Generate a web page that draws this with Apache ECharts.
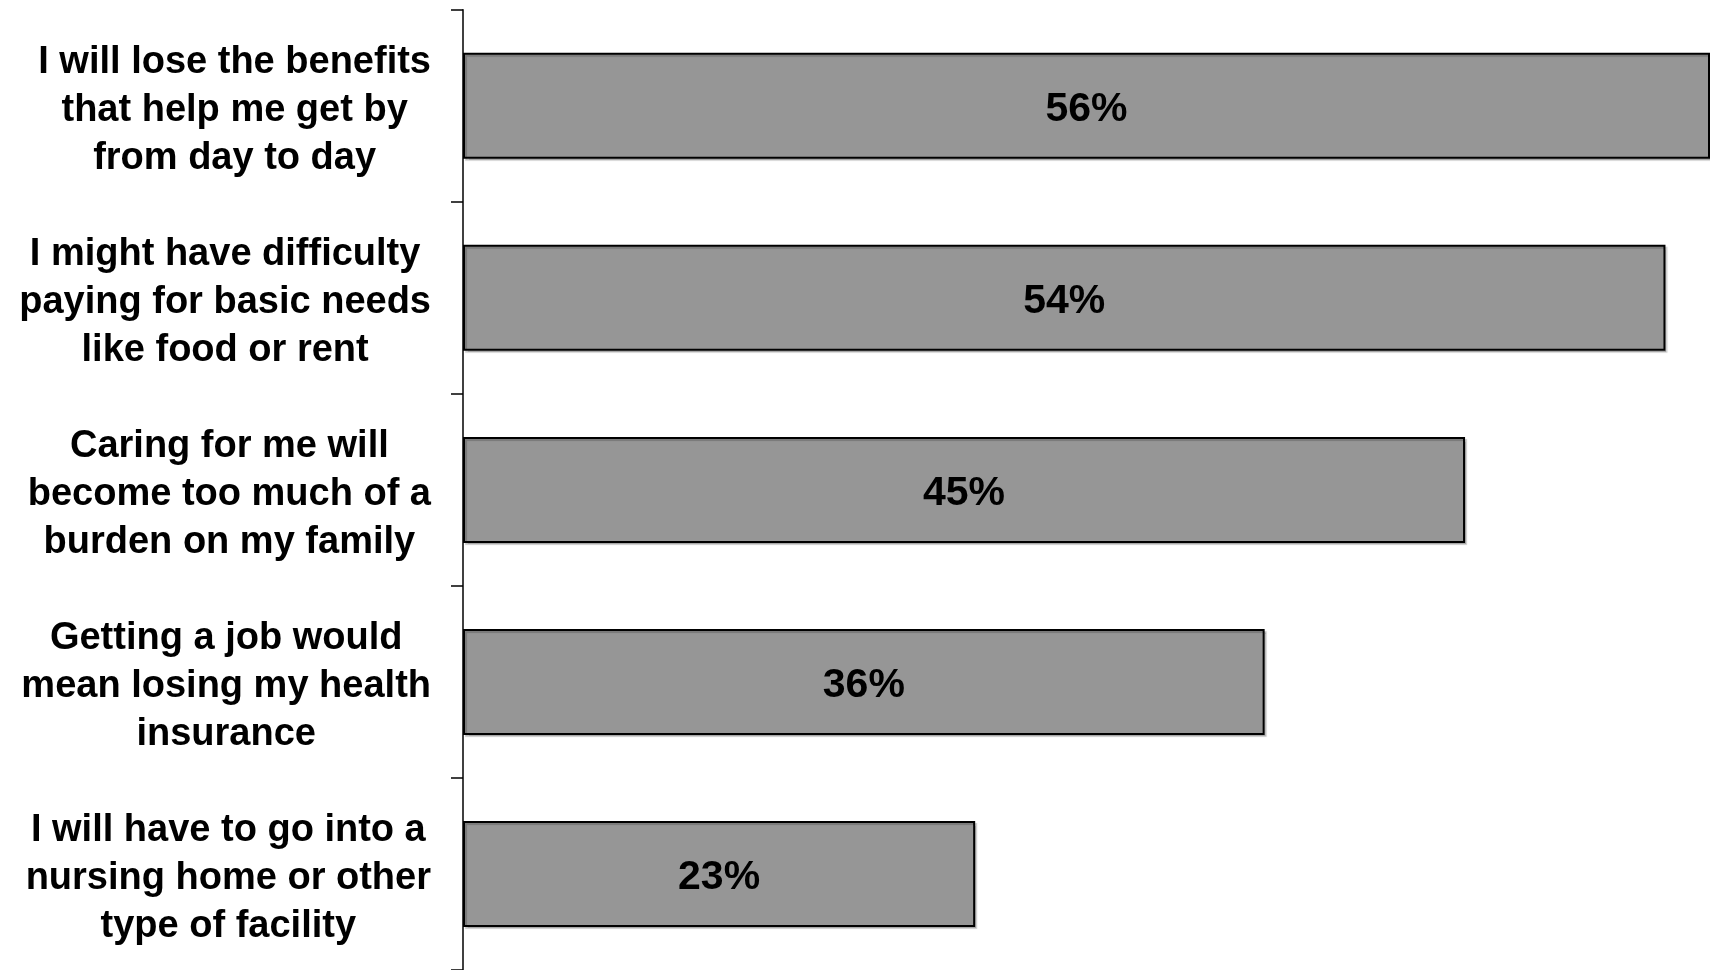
<!DOCTYPE html>
<html>
<head>
<meta charset="utf-8">
<script src="https://cdn.jsdelivr.net/npm/echarts@6/dist/echarts.min.js"></script>
<style>
html,body{margin:0;padding:0;background:#fff;}
#chart{width:1710px;height:970px;}
</style>
</head>
<body>
<div id="chart"></div>
<script>
var categories = [
  "I will lose the benefits\nthat help me get by\nfrom day to day",
  "I might have difficulty\npaying for basic needs\nlike food or rent",
  "Caring for me will\nbecome too much of a\nburden on my family",
  "Getting a job would\nmean losing my health\ninsurance",
  "I will have to go into a\nnursing home or other\ntype of facility"
];
var values = [56, 54, 45, 36, 23];

var chart = echarts.init(document.getElementById('chart'), null, {renderer: 'canvas'});
chart.setOption({
  backgroundColor: '#ffffff',
  animation: false,
  grid: {left: 463, top: 9.75, width: 1252, height: 964.5, containLabel: false},
  xAxis: {
    type: 'value', min: 0, max: 56, show: false
  },
  yAxis: {
    type: 'category',
    data: categories,
    inverse: true,
    axisLine: {show: true, lineStyle: {color: '#000', width: 1.5}},
    axisTick: {show: true, length: 12, lineStyle: {color: '#000', width: 1.5}},
    splitLine: {show: false},
    axisLabel: {
      margin: 32,
      padding: [9, 0, 0, 0],
      formatter: function (v) {
        return v.split('\n').map(function (l) { return '{c|' + l + '}'; }).join('\n');
      },
      rich: {
        c: {
          align: 'center',
          fontFamily: 'Liberation Sans, Arial, sans-serif',
          fontWeight: 'bold',
          fontSize: 38,
          lineHeight: 48,
          color: '#000'
        }
      }
    }
  },
  series: [{
    type: 'bar',
    data: values,
    barWidth: 106,
    itemStyle: {
      color: '#969696',
      borderColor: '#000',
      borderWidth: 2,
      shadowColor: 'rgba(0,0,0,0.2)',
      shadowOffsetX: 2,
      shadowOffsetY: 2,
      shadowBlur: 1
    },
    label: {
      show: true,
      position: 'inside',
      offset: [0, 4],
      formatter: '{c}%',
      fontFamily: 'Liberation Sans, Arial, sans-serif',
      fontWeight: 'bold',
      fontSize: 41,
      color: '#000'
    }
  }]
});
</script>
</body>
</html>
